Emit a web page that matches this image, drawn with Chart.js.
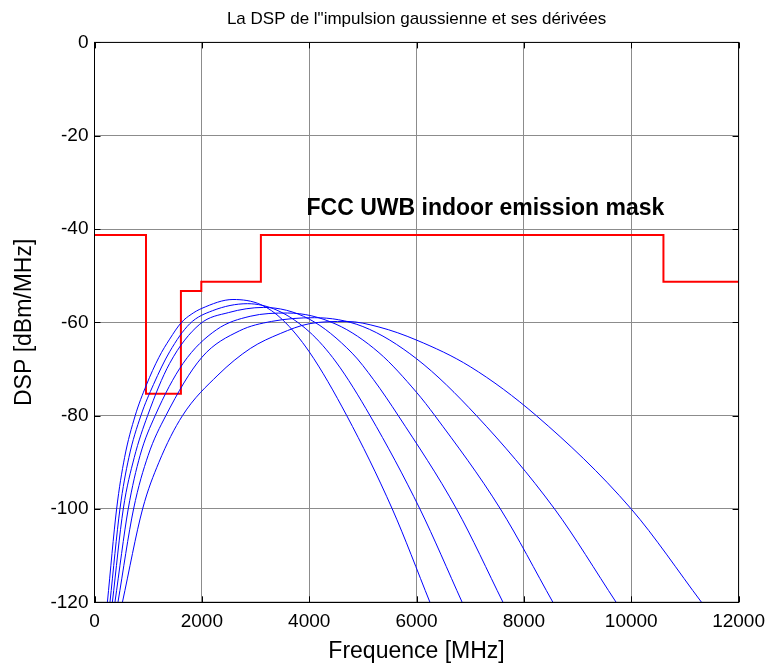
<!DOCTYPE html>
<html>
<head>
<meta charset="utf-8">
<script src="https://cdn.jsdelivr.net/npm/chart.js@4"></script>
<style>
  html, body { margin: 0; background: #fff; }
</style>
</head>
<body>
<canvas id="dsp" width="773" height="666"></canvas>
<script>
// axis ticks
const freqTicks = [0, 2000, 4000, 6000, 8000, 10000, 12000];
const dspTicks = [-120, -100, -80, -60, -40, -20, 0];

// FCC indoor mask (value starts at given frequency)
const maskFreq = [0, 960, 1610, 1990, 3100, 10600, 12000];
const maskDsp = [-41.3, -75.3, -53.3, -51.3, -41.3, -51.3, -51.3];

// PSD curves (MHz, dBm/MHz)
const c1Freq = [240, 412, 560, 758, 964, 1200, 1400, 1621, 1800, 2000, 2580, 3100, 3500, 4000, 4700, 5548, 6250];
const c1Dsp = [-120, -100, -89, -80, -73.5, -67.5, -63.6, -60, -58.3, -57, -55.1, -56.2, -59.4, -66.3, -80, -100, -120];

const c2Freq = [288, 474, 640, 864, 1100, 1400, 1775, 2200, 2850, 3400, 4000, 4500, 5134, 6063, 6850];
const c2Dsp = [-120, -100, -89, -80, -73.3, -66.3, -60.3, -57.5, -56, -57.4, -62, -68.5, -80, -100, -120];

const c3Freq = [333, 536, 740, 989, 1400, 1961, 2500, 3150, 4000, 4800, 5200, 5660, 6745, 7611];
const c3Dsp = [-120, -100, -89, -80, -68.8, -60.4, -57.9, -56.8, -59.3, -66.6, -72.3, -80, -100, -120];

const c4Freq = [381, 628, 850, 1130, 1650, 2271, 2900, 3600, 4500, 5300, 6000, 6342, 7563, 8541];
const c4Dsp = [-120, -100, -88.5, -80, -68.8, -61.6, -58.7, -58, -60.4, -66.5, -75, -80, -100, -120];

const c5Freq = [437, 728, 1000, 1329, 2000, 2705, 3300, 4100, 5000, 6000, 7117, 8572, 9719];
const c5Dsp = [-120, -100, -88.5, -80, -67.5, -61.8, -59.8, -59, -60.9, -67.8, -80, -100, -120];

const c6Freq = [520, 896, 1200, 1639, 2300, 2903, 3461, 4000, 4700, 5300, 6000, 7000, 8232, 10000, 11310];
const c6Dsp = [-120, -100, -90, -80, -71.3, -65.6, -62.4, -60.3, -59.8, -61, -63.8, -69.5, -80, -100, -120];

const curves = [
  [c1Freq, c1Dsp], [c2Freq, c2Dsp], [c3Freq, c3Dsp],
  [c4Freq, c4Dsp], [c5Freq, c5Dsp], [c6Freq, c6Dsp]
];

function toPoints(xs, ys) {
  return xs.map((x, i) => ({ x: x, y: ys[i] }));
}

const datasets = curves.map(([f, d]) => ({
  data: toPoints(f, d),
  borderColor: "#0000ff",
  borderWidth: 1,
  pointRadius: 0,
  cubicInterpolationMode: "monotone",
  fill: false
}));

datasets.push({
  data: toPoints(maskFreq, maskDsp),
  borderColor: "#ff0000",
  borderWidth: 2,
  pointRadius: 0,
  stepped: "before",
  fill: false
});

const FONT = "'Liberation Sans', Arial, Helvetica, sans-serif";

// title, box, inward ticks and the mask label
const decor = {
  id: "decor",
  afterDraw(chart) {
    const { ctx, chartArea: a, scales } = chart;
    const x = scales.x, y = scales.y;
    ctx.save();
    ctx.strokeStyle = "#000";
    ctx.lineWidth = 1;
    ctx.strokeRect(a.left, a.top, a.right - a.left, a.bottom - a.top);
    ctx.beginPath();
    freqTicks.forEach((v) => {
      const px = Math.round(x.getPixelForValue(v)) + 0.5;
      ctx.moveTo(px, a.bottom); ctx.lineTo(px, a.bottom - 6);
      ctx.moveTo(px, a.top); ctx.lineTo(px, a.top + 6);
    });
    dspTicks.forEach((v) => {
      const py = Math.round(y.getPixelForValue(v)) + 0.5;
      ctx.moveTo(a.left, py); ctx.lineTo(a.left + 6, py);
      ctx.moveTo(a.right, py); ctx.lineTo(a.right - 6, py);
    });
    ctx.stroke();

    ctx.fillStyle = "#000";
    ctx.textAlign = "center";
    ctx.textBaseline = "middle";
    ctx.font = "17px " + FONT;
    ctx.fillText("La DSP de l\"impulsion gaussienne et ses dérivées", (a.left + a.right) / 2, 19);

    ctx.textAlign = "left";
    ctx.textBaseline = "alphabetic";
    ctx.font = "bold 23px " + FONT;
    ctx.fillText("FCC UWB indoor emission mask", x.getPixelForValue(3950), y.getPixelForValue(-37));
    ctx.restore();
  }
};

new Chart(document.getElementById("dsp"), {
  type: "line",
  data: { datasets: datasets },
  options: {
    responsive: false,
    animation: false,
    layout: { padding: { top: 42.4, right: 33, left: 0, bottom: 0 } },
    plugins: {
      legend: { display: false },
      tooltip: { enabled: false }
    },
    scales: {
      x: {
        type: "linear",
        min: 0,
        max: 12000,
        afterBuildTicks: (s) => { s.ticks = freqTicks.map((v) => ({ value: v })); },
        afterFit: (s) => { s.height = 666 - 602.3; },
        grid: { color: "#8c8c8c", lineWidth: 1, drawTicks: false },
        border: { color: "#000", width: 1 },
        ticks: {
          padding: 8,
          color: "#000",
          font: { family: FONT, size: 19 },
          maxRotation: 0,
          callback: (v) => String(v)
        },
        title: {
          display: true,
          text: "Frequence [MHz]",
          color: "#000",
          font: { family: FONT, size: 23 },
          padding: { top: 0, bottom: 1 }
        }
      },
      y: {
        type: "linear",
        min: -120,
        max: 0,
        afterBuildTicks: (s) => { s.ticks = dspTicks.map((v) => ({ value: v })); },
        afterFit: (s) => { s.width = 94.5; },
        grid: { color: "#8c8c8c", lineWidth: 1, drawTicks: false },
        border: { color: "#000", width: 1 },
        ticks: {
          padding: 6,
          color: "#000",
          font: { family: FONT, size: 19 },
          callback: (v) => String(v)
        },
        title: {
          display: true,
          text: "DSP [dBm/MHz]",
          color: "#000",
          font: { family: FONT, size: 23 },
          padding: { top: 11, bottom: 0 }
        }
      }
    }
  },
  plugins: [decor]
});
</script>
</body>
</html>
